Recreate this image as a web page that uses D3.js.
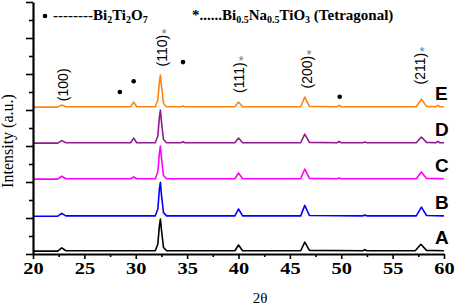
<!DOCTYPE html>
<html>
<head>
<meta charset="utf-8">
<script src="https://cdn.jsdelivr.net/npm/d3@7"></script>
<style>
  body { margin: 0; background: #fff; }
  svg { display: block; }
</style>
</head>
<body>
<div id="chart"></div>
<script>
/**
 * CONSTANTS AND DATA
 * */
const width = 457, height = 307;

const samples = ["A", "B", "C", "D", "E"];
const colors = ["#000000", "#0000ff", "#ff00ff", "#8e1a8e", "#ff8412"];
const offsets = [0.08, 1.05, 2.08, 3.08, 4.08];

// [2theta, intensity above baseline]
const traceA = [[20,0],[22.4,0],[22.8,0.09],[23.2,0.01],[31.9,0.01],[32.15,0.2],[32.3,0.7],[32.4,0.89],[32.5,0.6],[32.7,0.1],[33.0,0.01],
  [39.65,0.01],[40.0,0.17],[40.4,0.01],[46.05,0.01],[46.45,0.25],[46.9,0.02],[52.1,0.01],[52.3,0.04],[52.5,0.01],
  [57.2,0.01],[57.75,0.19],[58.3,0.02],[60,0.01]];
const traceB = [[20,0],[22.4,0],[22.8,0.08],[23.2,0.01],[31.9,0.01],[32.15,0.2],[32.3,0.75],[32.4,0.94],[32.5,0.6],[32.7,0.1],[33.0,0.01],
  [39.65,0.01],[40.0,0.2],[40.4,0.01],[46.05,0.01],[46.45,0.3],[46.9,0.02],[52.1,0.01],[52.3,0.03],[52.5,0.01],
  [57.3,0.01],[57.8,0.25],[58.3,0.02],[60,0.01]];
const traceC = [[20,0],[22.4,0],[22.8,0.08],[23.2,0.01],[29.5,0.01],[29.8,0.06],[30.1,0.01],[31.9,0.01],[32.15,0.2],[32.3,0.72],[32.4,0.92],[32.5,0.6],[32.7,0.1],[33.0,0.01],
  [39.65,0.01],[40.0,0.17],[40.4,0.01],[46.05,0.01],[46.45,0.28],[46.9,0.02],[49.6,0.01],[49.8,0.03],[50.0,0.01],
  [57.3,0.01],[57.8,0.2],[58.3,0.02],[60,0.01]];
const traceD = [[20,0],[22.4,0],[22.8,0.07],[23.2,0.01],[29.5,0.01],[29.8,0.14],[30.1,0.01],[31.9,0.01],[32.15,0.2],[32.3,0.72],[32.4,0.92],[32.5,0.6],[32.7,0.1],[33.0,0.01],
  [34.4,0.01],[34.6,0.04],[34.8,0.01],[39.65,0.01],[40.0,0.14],[40.4,0.01],[46.05,0.01],[46.45,0.25],[46.9,0.02],
  [49.6,0.01],[49.8,0.05],[50.0,0.01],[52.1,0.01],[52.3,0.03],[52.5,0.01],[57.3,0.01],[57.8,0.17],[58.3,0.02],
  [59.2,0.01],[59.4,0.05],[59.6,0.01],[60,0.01]];
const traceE = [[20,0],[22.4,0],[22.8,0.06],[23.2,0.01],[29.5,0.01],[29.8,0.14],[30.1,0.01],[31.9,0.01],[32.15,0.2],[32.3,0.7],[32.4,0.89],[32.5,0.6],[32.7,0.1],[33.0,0.01],
  [34.4,0.01],[34.6,0.03],[34.8,0.01],[39.65,0.01],[40.0,0.14],[40.4,0.01],[46.05,0.01],[46.45,0.28],[46.9,0.02],
  [49.6,0.01],[49.8,0.05],[50.0,0.01],[57.3,0.01],[57.8,0.22],[58.3,0.02],
  [59.2,0.01],[59.4,0.05],[59.6,0.01],[60,0.01]];
const traces = [traceA, traceB, traceC, traceD, traceE];

// Miller index labels, their centres [2theta, a.u.] and asterisk colours
const hklLabels = ["(100)", "(110)", "(111)", "(200)", "(211)"];
const hklPos = [[22.9, 4.7], [32.55, 5.65], [40.05, 4.9], [46.67, 5.05], [57.66, 5.15]];
const hklStar = [null, "#6b7b8c", "#4f7fb0", "#6b7b8c", "#3f7fc0"];

// Bi2Ti2O7 peak markers [2theta, a.u.]
const bulletPos = [[28.45, 4.5], [29.8, 4.8], [34.6, 5.33], [49.85, 4.37]];

const xTicks = [20, 25, 30, 35, 40, 45, 50, 55, 60];
const xMinor = [22.5, 27.5, 32.5, 37.5, 42.5, 47.5, 52.5, 57.5];
const yTicks = [0, 1, 2, 3, 4, 5, 6, 7];
const yMinor = [0.5, 1.5, 2.5, 3.5, 4.5, 5.5, 6.5];

/**
 * SCALES
 * */
const x = d3.scaleLinear().domain([20, 60]).range([33, 444]);
const y = d3.scaleLinear().domain([0, 7]).range([254, 2]);

const svg = d3.select("#chart").append("svg")
  .attr("width", width)
  .attr("height", height);

// traces
const line = d3.line().x(d => x(d[0])).y(d => y(d[1]));
traces.forEach((t, i) => {
  svg.append("path")
    .datum(t.map(p => [p[0], p[1] + offsets[i]]))
    .attr("fill", "none")
    .attr("stroke", colors[i])
    .attr("stroke-width", 1.6)
    .attr("stroke-linejoin", "round")
    .attr("d", line);
});

// axes
const xAxis = svg.append("g")
  .attr("transform", `translate(0,${y(0)})`)
  .call(d3.axisBottom(x).tickValues(xTicks).tickSize(5).tickSizeOuter(0).tickPadding(3));
svg.append("g")
  .attr("transform", `translate(0,${y(0)})`)
  .call(d3.axisBottom(x).tickValues(xMinor).tickSize(3).tickFormat(""))
  .call(g => g.select(".domain").remove());
xAxis.selectAll("text")
  .attr("font-family", "Liberation Serif, Times New Roman, serif")
  .attr("font-weight", "bold")
  .attr("font-size", 17)
  .attr("fill", "#000")
  .attr("transform", "scale(1.2,1)");

svg.append("g")
  .attr("transform", `translate(${x(20)},0)`)
  .call(d3.axisLeft(y).tickValues(yTicks).tickSize(7).tickSizeOuter(0).tickFormat(""));
svg.append("g")
  .attr("transform", `translate(${x(20)},0)`)
  .call(d3.axisLeft(y).tickValues(yMinor).tickSize(4).tickFormat(""))
  .call(g => g.select(".domain").remove());

svg.selectAll(".domain").attr("stroke-width", 2.2).attr("stroke", "#000");
svg.selectAll(".tick line").attr("stroke-width", 1.6).attr("stroke", "#000");

// axis titles
svg.append("text")
  .attr("x", 260).attr("y", 303)
  .attr("text-anchor", "middle")
  .attr("font-family", "Liberation Serif, Times New Roman, serif")
  .attr("font-size", 15)
  .text("2θ");

// everything that reads bottom to top sits in one rotated group:
// inside it, x runs up the page (x = -pageY) and y runs right (y = pageX)
const vert = svg.append("g").attr("transform", "rotate(-90)");

vert.append("text")
  .attr("x", -141)
  .attr("y", 13)
  .attr("text-anchor", "middle")
  .attr("font-family", "Liberation Serif, Times New Roman, serif")
  .attr("font-size", 16)
  .text("Intensity (a.u.)");

vert.selectAll(".hkl")
  .data(hklLabels)
  .join("text")
  .attr("class", "hkl")
  .attr("x", (d, i) => -y(hklPos[i][1]))
  .attr("y", (d, i) => x(hklPos[i][0]) + 5)
  .attr("text-anchor", "middle")
  .attr("font-family", "Liberation Sans, Arial, sans-serif")
  .attr("font-size", 14)
  .attr("fill", "#000")
  .text(d => d);

// asterisks above the BNT indices
hklLabels.forEach((lab, i) => {
  if (!hklStar[i]) return;
  svg.append("text")
    .attr("x", x(hklPos[i][0]) + 2)
    .attr("y", y(hklPos[i][1]) - 13)
    .attr("text-anchor", "middle")
    .attr("font-family", "Liberation Sans, Arial, sans-serif")
    .attr("font-size", 13)
    .attr("fill", hklStar[i])
    .text("*");
});

// sample letters
svg.selectAll(".sample")
  .data(samples)
  .join("text")
  .attr("class", "sample")
  .attr("x", 435)
  .attr("y", (d, i) => y(offsets[i]) - 7)
  .attr("font-family", "Liberation Sans, Arial, sans-serif")
  .attr("font-weight", "bold")
  .attr("font-size", 19)
  .text(d => d);

// Bi2Ti2O7 bullets
svg.selectAll(".bullet")
  .data(bulletPos)
  .join("circle")
  .attr("class", "bullet")
  .attr("cx", d => x(d[0]))
  .attr("cy", d => y(d[1]))
  .attr("r", 2.3)
  .attr("fill", "#000");

// legend
svg.append("circle").attr("cx", 45).attr("cy", 16).attr("r", 2.3).attr("fill", "#000");

const legFont = "Liberation Serif, Times New Roman, serif";
const l1 = svg.append("text")
  .attr("x", 53).attr("y", 20)
  .attr("font-family", legFont).attr("font-weight", "bold").attr("font-size", 15);
l1.append("tspan").text("--------Bi");
l1.append("tspan").attr("font-size", 10).attr("dy", 3).text("2");
l1.append("tspan").attr("dy", -3).text("Ti");
l1.append("tspan").attr("font-size", 10).attr("dy", 3).text("2");
l1.append("tspan").attr("dy", -3).text("O");
l1.append("tspan").attr("font-size", 10).attr("dy", 3).text("7");

const l2 = svg.append("text")
  .attr("x", 192).attr("y", 20)
  .attr("font-family", legFont).attr("font-weight", "bold").attr("font-size", 15);
l2.append("tspan").text("*......Bi");
l2.append("tspan").attr("font-size", 10).attr("dy", 3).text("0.5");
l2.append("tspan").attr("dy", -3).text("Na");
l2.append("tspan").attr("font-size", 10).attr("dy", 3).text("0.5");
l2.append("tspan").attr("dy", -3).text("TiO");
l2.append("tspan").attr("font-size", 10).attr("dy", 3).text("3");
l2.append("tspan").attr("dy", -3).text(" (Tetragonal)");
</script>
</body>
</html>
